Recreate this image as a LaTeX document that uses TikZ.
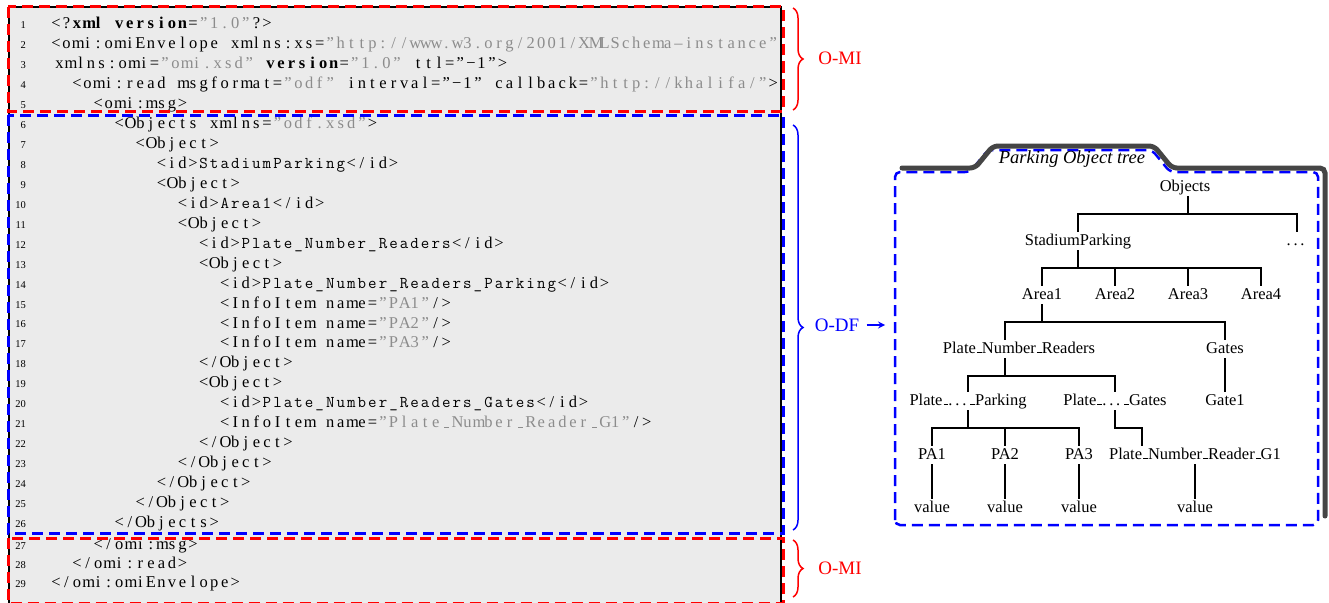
\documentclass[tikz,border=0pt]{standalone}
\usepackage{fontspec}
\setmainfont{Liberation Serif}
\usetikzlibrary{arrows, shapes, positioning, calc, decorations.pathreplacing}

\definecolor{codebg}{HTML}{EBEBEB}
\definecolor{strgray}{HTML}{8C8C8C}
\definecolor{omired}{HTML}{FF0000}
\definecolor{odfblue}{HTML}{0000FF}
\definecolor{folderdark}{HTML}{454545}

% fixed columns for the listing
\ExplSyntaxOn
\dim_new:N \l_cell_dim
\dim_set:Nn \l_cell_dim {10.55pt}
\seq_new:N \l_cell_words_seq
\NewDocumentCommand{\cl}{m}
  {
    \seq_set_split:Nnn \l_cell_words_seq { ~ } {#1}
    \seq_map_indexed_inline:Nn \l_cell_words_seq
      {
        \int_compare:nNnT {##1} > {1} { \hbox_to_wd:nn { \l_cell_dim } { \hfil } }
        \tl_map_inline:nn {##2} { \hbox_to_wd:nn { \l_cell_dim } { \hfil ####1 \hfil } }
      }
  }
\NewDocumentCommand{\csp}{}{ \hbox_to_wd:nn { \l_cell_dim } { \hfil } }
\ExplSyntaxOff

\newcommand{\codestr}[1]{\textcolor{strgray}{#1}}
\newcommand{\idtxt}[1]{{\ttfamily #1}}
\newcommand{\tus}{\leavevmode\kern.06em\vbox{\hrule width.3em height 1pt}}
\newcommand{\tdots}{.\kern2.8pt.\kern2.8pt.\kern2.8pt}

\tikzset{
  codeline/.style={anchor=base west, inner sep=0pt, font=\fontsize{16.5}{20}\selectfont},
  linenum/.style={anchor=base east, inner sep=0pt, font=\fontsize{10.5}{12}\selectfont},
  omibox/.style={draw=omired, line width=3pt, dash pattern=on 11pt off 6pt},
  odfbox/.style={draw=odfblue, line width=3pt, dash pattern=on 11pt off 6pt},
  partbrace/.style={decorate, decoration={brace, amplitude=10pt}, line width=1.5pt},
  partlabel/.style={font=\fontsize{19}{22}\selectfont},
  treenode/.style={inner sep=2pt, text height=11pt, text depth=3pt, font=\fontsize{16.5}{20}\selectfont},
  treeedge/.style={line width=1.5pt},
}

\begin{document}
\begin{tikzpicture}[x=1pt, y=-1pt]
	\useasboundingbox (0,0) rectangle (1329,602);

	% code box %
	\fill[codebg] (8,7) rectangle (782,610);
	\draw[line width=2pt] (9,612) -- (9,7) -- (781,7) -- (781,612);

	% line numbers %
	\foreach \n in {1,...,26}
		\node[linenum] (n\n) at (26,{29+19.93*(\n-1)}) {\n};
	\node[linenum] (n27) at (26,549) {27};
	\node[linenum] (n28) at (26,568) {28};
	\node[linenum] (n29) at (26,587) {29};

	% code lines %
	\node[codeline] (l1) at (50.5,29) {\cl{<?}\textbf{\cl{xml}}\csp\textbf{\cl{version}}\cl{=}\codestr{\cl{”1.0”}}\cl{?>}};
	\node[codeline] (l2) at (50.5,48.9) {\cl{<omi:omiEnvelope xmlns:xs=}\codestr{\cl{”http://www.w3.org/2001/XMLSchema–instance”}}};
	\node[codeline] (l3) at (54,68.9) {\cl{xmlns:omi=}\codestr{\cl{”omi.xsd”}}\csp\textbf{\cl{version}}\cl{=}\codestr{\cl{”1.0”}}\csp\cl{ttl=”−1”>}};
	\node[codeline] (l4) at (71.6,88.8) {\cl{<omi:read msgformat=}\codestr{\cl{”odf”}}\csp\cl{interval=”−1” callback=}\codestr{\cl{”http://khalifa/”}}\cl{>}};
	\node[codeline] (l5) at (92.7,108.7) {\cl{<omi:msg>}};
	\node[codeline] (l6) at (113.8,128.7) {\cl{<Objects xmlns=}\codestr{\cl{”odf.xsd”}}\cl{>}};
	\node[codeline] (l7) at (134.9,148.6) {\cl{<Object>}};
	\node[codeline] (l8) at (156,168.5) {\cl{<id>}\idtxt{\cl{StadiumParking}}\cl{</id>}};
	\node[codeline] (l9) at (156,188.4) {\cl{<Object>}};
	\node[codeline] (l10) at (177.1,208.4) {\cl{<id>}\idtxt{\cl{Area1}}\cl{</id>}};
	\node[codeline] (l11) at (177.1,228.3) {\cl{<Object>}};
	\node[codeline] (l12) at (198.2,248.2) {\cl{<id>}\idtxt{\cl{Plate\_Number\_Readers}}\cl{</id>}};
	\node[codeline] (l13) at (198.2,268.2) {\cl{<Object>}};
	\node[codeline] (l14) at (219.3,288.1) {\cl{<id>}\idtxt{\cl{Plate\_Number\_Readers\_Parking}}\cl{</id>}};
	\node[codeline] (l15) at (219.3,308) {\cl{<InfoItem name=}\codestr{\cl{”PA1”}}\cl{/>}};
	\node[codeline] (l16) at (219.3,328) {\cl{<InfoItem name=}\codestr{\cl{”PA2”}}\cl{/>}};
	\node[codeline] (l17) at (219.3,347.9) {\cl{<InfoItem name=}\codestr{\cl{”PA3”}}\cl{/>}};
	\node[codeline] (l18) at (198.2,367.8) {\cl{</Object>}};
	\node[codeline] (l19) at (198.2,387.7) {\cl{<Object>}};
	\node[codeline] (l20) at (219.3,407.7) {\cl{<id>}\idtxt{\cl{Plate\_Number\_Readers\_Gates}}\cl{</id>}};
	\node[codeline] (l21) at (219.3,427.6) {\cl{<InfoItem name=}\codestr{\cl{”Plate\tus Number\tus Reader\tus G1”}}\cl{/>}};
	\node[codeline] (l22) at (198.2,447.5) {\cl{</Object>}};
	\node[codeline] (l23) at (177.1,467.5) {\cl{</Object>}};
	\node[codeline] (l24) at (156,487.4) {\cl{</Object>}};
	\node[codeline] (l25) at (134.9,507.3) {\cl{</Object>}};
	\node[codeline] (l26) at (113.8,527.3) {\cl{</Objects>}};
	\node[codeline] (l27) at (92.7,549) {\cl{</omi:msg>}};
	\node[codeline] (l28) at (71.6,568) {\cl{</omi:read>}};
	\node[codeline] (l29) at (50.5,587) {\cl{</omi:omiEnvelope>}};

	% parts %
	\draw[omibox] (8,7) rectangle (783.5,111);
	\draw[odfbox] (8,115) rectangle (783,533);
	\draw[omibox] (8,538) rectangle (783,603.5);

	\draw[partbrace, omired] (793,8) -- (793,110);
	\draw[partbrace, odfblue] (793,125) -- (793,530);
	\draw[partbrace, omired] (793,540) -- (793,597);
	\node[partlabel, text=omired] (omitop) at (840,58) {O-MI};
	\node[partlabel, text=odfblue] (odf) at (837,325) {O-DF};
	\node[partlabel, text=omired] (omibottom) at (840,568) {O-MI};
	\coordinate (treein) at (885,325);
	\draw[-stealth, odfblue, line width=2pt, shorten <=4pt] (odf.east) -- (treein);

	% folder %
	\draw[odfblue, line width=2.5pt, dash pattern=on 11pt off 6pt, rounded corners=5pt]
		(895,525) -- (895,172) -- (970,172) -- (988,150) -- (1152,150) -- (1170,172) -- (1318,172) -- (1318,525) -- cycle;
	\draw[folderdark, line width=5pt, rounded corners=5pt, line cap=round]
		(902,168) -- (975,168) -- (993,146) -- (1154,146) -- (1172,168) -- (1325,168) -- (1325,516);
	\node[font=\itshape\fontsize{18.5}{20}\selectfont] (title) at (1072,159) {Parking Object tree};

	% nodes %
	\node[treenode] (objects) at (1185,187) {Objects};
	\node[treenode] (stadium) at (1078,241) {StadiumParking};
	\node[treenode] (dots) at (1297,241) {\tdots};
	\node[treenode] (area1) at (1042,295) {Area1};
	\node[treenode, right of=area1, node distance=73pt] (area2) {Area2};
	\node[treenode, right of=area2, node distance=73pt] (area3) {Area3};
	\node[treenode, right of=area3, node distance=73pt] (area4) {Area4};
	\node[treenode] (pnr) at (1019,349) {Plate\tus Number\tus Readers};
	\node[treenode] (gates) at (1225,349) {Gates};
	\node[treenode] (pparking) at (968,401) {Plate\tus\tdots\tus Parking};
	\node[treenode] (pgates) at (1115,401) {Plate\tus\tdots\tus Gates};
	\node[treenode] (gate1) at (1225,401) {Gate1};
	\node[treenode] (pa1) at (932,455) {PA1};
	\node[treenode, right of=pa1, node distance=73pt] (pa2) {PA2};
	\node[treenode, right of=pa2, node distance=74pt] (pa3) {PA3};
	\node[treenode] (pnrg1) at (1195,455) {Plate\tus Number\tus Reader\tus G1};
	\node[treenode, below of=pa1, node distance=53pt] (v1) {value};
	\node[treenode, below of=pa2, node distance=53pt] (v2) {value};
	\node[treenode, below of=pa3, node distance=53pt] (v3) {value};
	\node[treenode, below of=pnrg1, node distance=53pt] (v4) {value};

	% edges %
	\draw[treeedge] ($(objects.south)+(3,0)$) -- ++(0,18) -| (stadium.north);
	\draw[treeedge] ($(objects.south)+(3,0)$) -- ++(0,18) -| (dots.north);
	\foreach \c in {area1,area2,area3,area4}
		\draw[treeedge] (stadium.south) -- ++(0,18) -| (\c.north);
	\draw[treeedge] (area1.south) -- ++(0,18) -| ($(pnr.north)+(-14,0)$);
	\draw[treeedge] (area1.south) -- ++(0,18) -| (gates.north);
	\draw[treeedge] ($(pnr.south)+(-14,0)$) -- ++(0,18) -| (pparking.north);
	\draw[treeedge] ($(pnr.south)+(-14,0)$) -- ++(0,18) -| (pgates.north);
	\draw[treeedge] (gates) -- (gate1);
	\foreach \c in {pa1,pa2,pa3}
		\draw[treeedge] (pparking.south) -- ++(0,18) -| (\c.north);
	\draw[treeedge] (pgates.south) -- ++(0,18) -| ($(pnrg1.north)+(-53,0)$);
	\draw[treeedge] (pa1) -- (v1);
	\draw[treeedge] (pa2) -- (v2);
	\draw[treeedge] (pa3) -- (v3);
	\draw[treeedge] (pnrg1) -- (v4);
\end{tikzpicture}
\end{document}
